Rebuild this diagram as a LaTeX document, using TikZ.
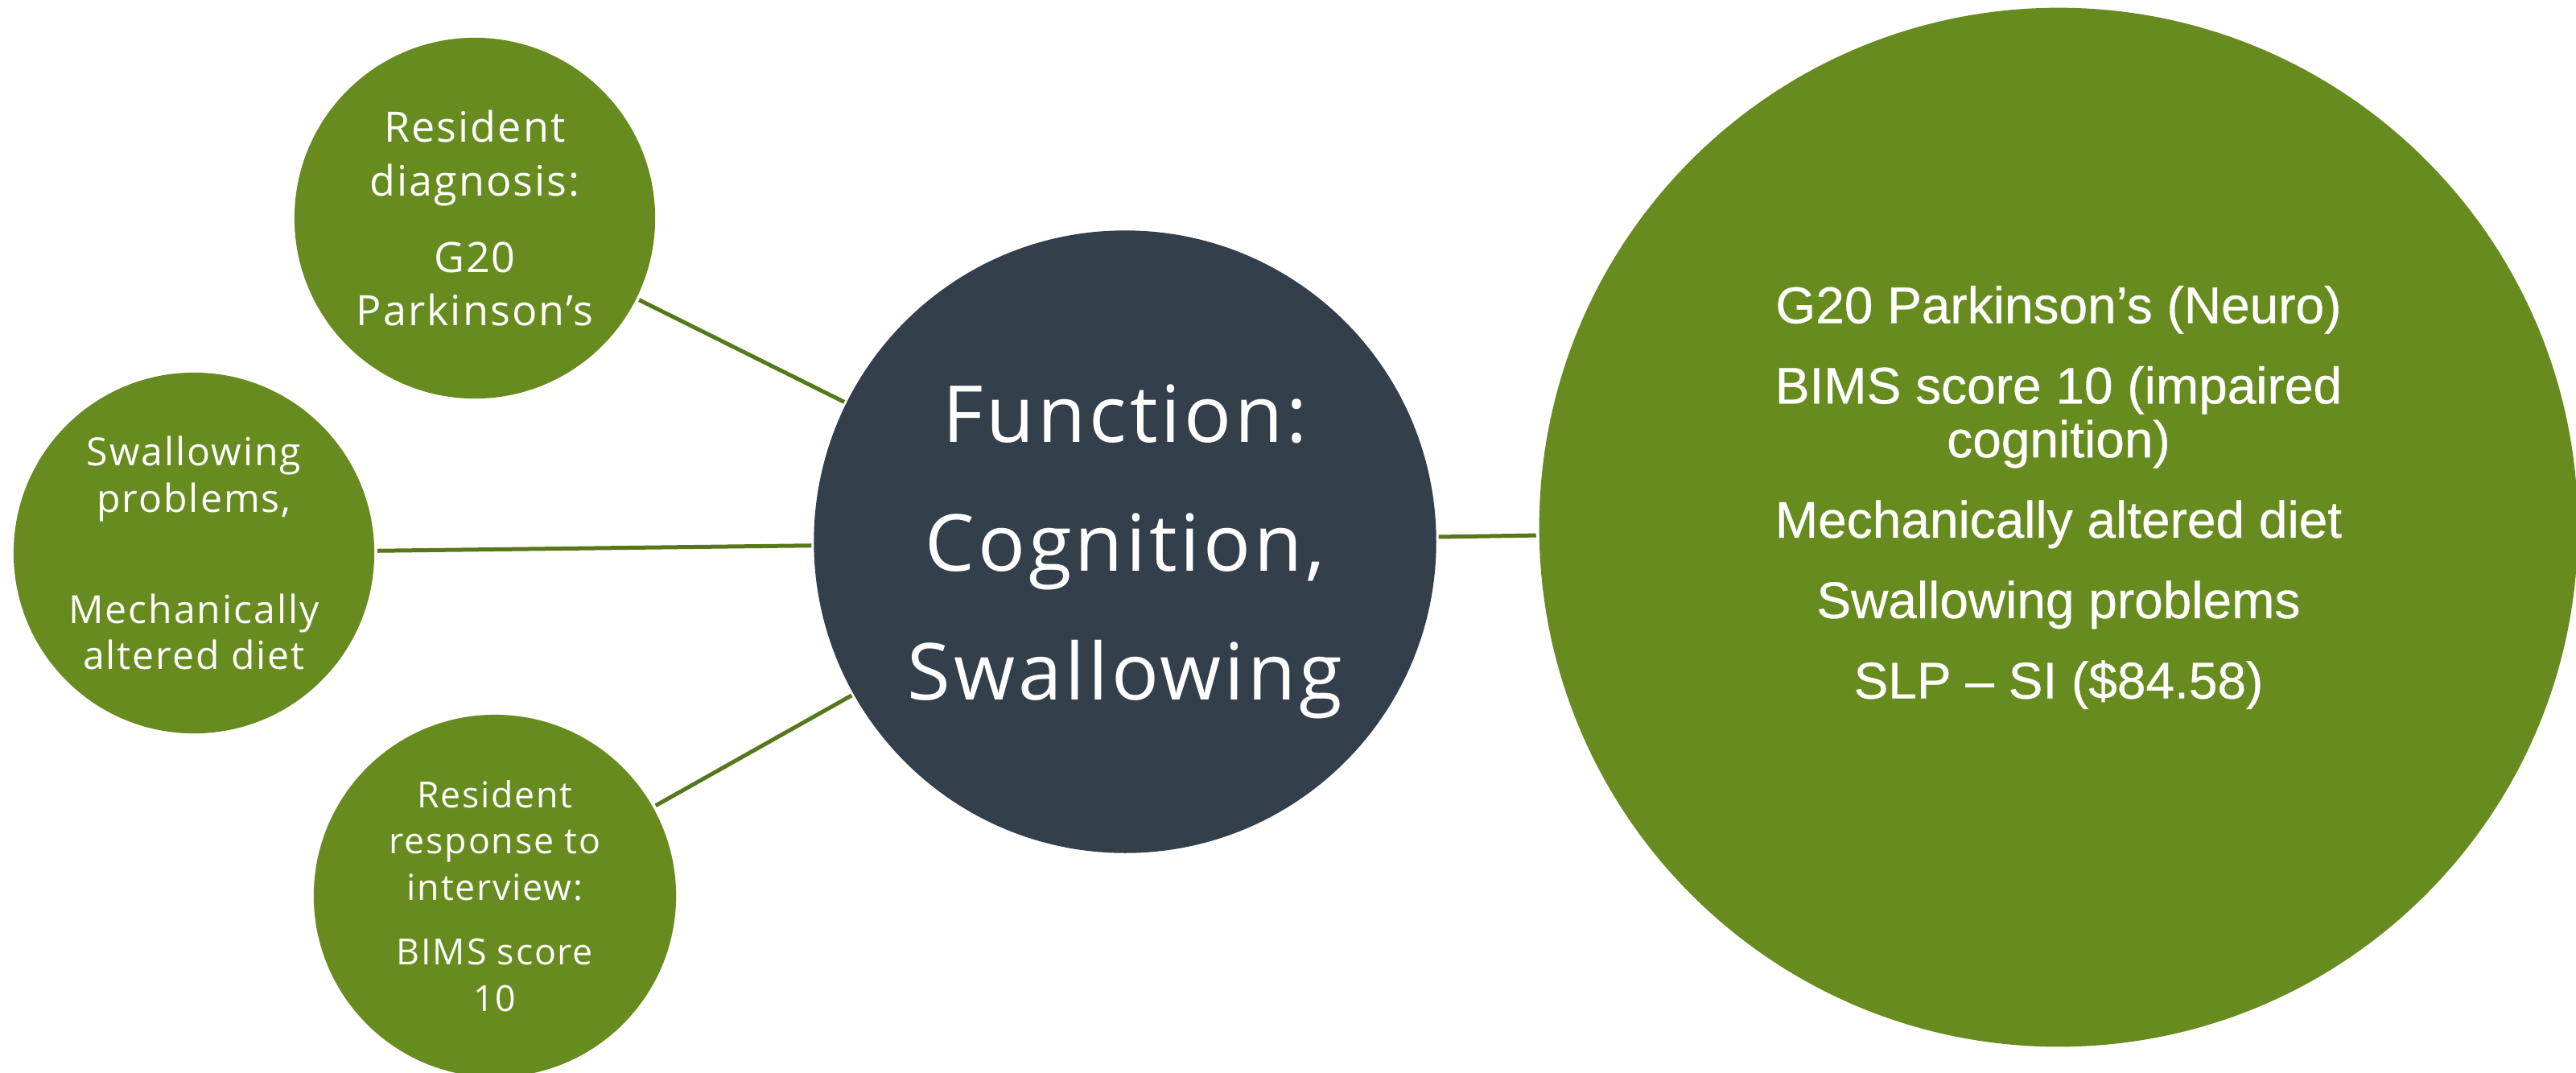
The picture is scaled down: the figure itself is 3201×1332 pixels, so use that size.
\documentclass[tikz,border=0pt]{standalone}
\usepackage{fontspec}
\setmainfont{Open Sans}
\newfontfamily\listfont[FakeBold=0.5]{Liberation Sans}
\definecolor{leaf}{HTML}{678B1E}
\definecolor{slate}{HTML}{333F4B}
\definecolor{stem}{HTML}{56781A}
\begin{document}
\begin{tikzpicture}[x=0.01cm,y=-0.01cm,
  bubble/.style={circle, fill=leaf, inner sep=0pt, outer sep=0.04cm, text=white, align=center},
  hub/.style={circle, fill=slate, inner sep=0pt, outer sep=0.03cm},
  caption/.style={text=white, align=center, inner sep=0pt},
  link/.style={draw=stem, line width=0.05cm}]
\useasboundingbox (0,0) rectangle (3201,1332);

% source bubbles on the left
\node[bubble, minimum size=4.48cm, font=\fontsize{14.8}{18.8}\selectfont\addfontfeatures{LetterSpace=4}]
  (diag) at (590,271) {Resident\\diagnosis:\\[8.2pt]G20\\Parkinson’s};
\node[bubble, minimum size=4.48cm, font=\fontsize{13.7}{16.4}\selectfont\addfontfeatures{LetterSpace=4}]
  (swal) at (241,687) {Swallowing\\problems,\\[22.8pt]Mechanically\\altered diet};
\node[bubble, minimum size=4.5cm, font=\fontsize{12.7}{16.4}\selectfont\addfontfeatures{LetterSpace=4}]
  (resp) at (615,1113) {Resident\\response to\\interview:\\[6.4pt]BIMS score\\10};

% central topic
\node[hub, minimum size=7.73cm] (func) at (1398,673) {};
\node[caption, font=\fontsize{27.8}{45.5}\selectfont\addfontfeatures{LetterSpace=4}]
  (functext) at ([yshift=-0.12cm]func.center) {Function:\\Cognition,\\Swallowing};

% summary bubble on the right
\node[bubble, minimum size=12.9cm] (summ) at (2558,655) {};
\node[caption, font=\listfont\fontsize{18.2}{19}\selectfont]
  (summtext) at ([yshift=0.37cm]summ.center) {G20 Parkinson’s (Neuro)\\[9.4pt]BIMS score 10 (impaired\\cognition)\\[9.4pt]Mechanically altered diet\\[9.4pt]Swallowing problems\\[9.4pt]SLP – SI (\$84.58)};

% connectors
\draw[link] (diag) -- (func);
\draw[link] (swal) -- (func);
\draw[link] (resp) -- (func);
\draw[link] (func) -- (summ);
\end{tikzpicture}
\end{document}
